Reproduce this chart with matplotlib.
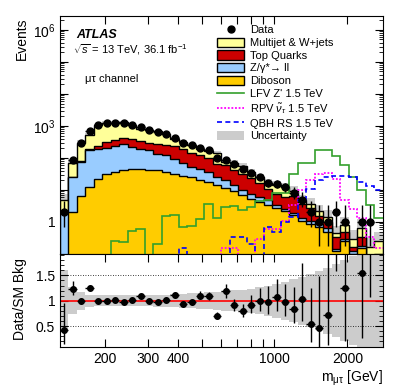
import numpy as np
import matplotlib
matplotlib.use("Agg")
import matplotlib.pyplot as plt
from matplotlib.patches import Patch
from matplotlib.lines import Line2D
from matplotlib.ticker import FixedLocator, FixedFormatter, MultipleLocator, NullLocator

plt.rcParams['font.family'] = ['Liberation Sans', 'DejaVu Sans']
plt.rcParams['mathtext.fontset'] = 'custom'
plt.rcParams['mathtext.rm'] = 'Liberation Sans'
plt.rcParams['mathtext.it'] = 'Liberation Sans:italic'
plt.rcParams['mathtext.bf'] = 'Liberation Sans:bold'

# 38 log-spaced bins in m_mu-tau [GeV]
edges = np.geomspace(130, 2807, 39)

data_obs = [2, 88, 301, 677, 1047, 1240, 1260, 1240, 1100, 903, 766, 648, 562, 430,
            300, 250, 205, 177, 102, 89, 64, 46, 34, 25, 16, 15, 12, 8, 5, 2, 1, 1,
            2, 1, 0, 1, 1, 0]

diboson = [0.05, 2.05, 6.4, 12.4, 22.6, 31, 37, 41, 43.5, 46, 43, 41, 36, 32, 28, 25,
           21, 18, 14, 11.5, 9.3, 6.8, 5.3, 4.2, 3.5, 2.8, 2.2, 1.6, 1.1, 0.88, 0.7,
           0.5, 0.12, 0.25, 0.1, 0.15, 0.05, 0.08]
zll = [2.0, 23.45, 68.6, 160.6, 167.4, 174, 203, 229, 176.5, 149, 132, 96, 84, 58, 42,
       27, 25, 18, 11.5, 8.5, 4.7, 2.9, 2.4, 1.8, 1.2, 0.5, 0.4, 0.35, 0.25, 0.2, 0.15,
       0.15, 0.02, 0.05, 0.02, 0.03, 0.01, 0.01]
top_quarks = [0.05, 0.5, 3, 22, 50, 111, 115, 150, 160, 145, 125, 133, 130, 140, 125,
              91, 74, 66, 40.5, 39, 29, 21.3, 16.3, 10.5, 6.3, 4.4, 3.4, 4.5, 2.3, 1.6,
              0.7, 0.35, 0.2, 0.2, 0.05, 0.17, 0.02, 0.01]
multijet = [2.7, 45, 223, 342, 817, 924, 892, 858, 698, 488, 466, 398, 301, 157, 124,
            115, 66, 60, 78, 16, 27, 26, 13, 8.5, 5.3, 6.3, 6.4, 3.0, 1.15, 1.0, 0.65,
            0.4, 0.11, 0.3, 0.13, 0.3, 0.08, 0.15]

lfv_zprime = [0, 0, 0, 0, 0, 0, 0.25, 0.24, 0.52, 0.59, 0, 0.21, 1.5, 1.7, 0.7, 0.75,
              1.2, 3.7, 1.3, 3.0, 3.1, 2.4, 3.0, 4.5, 5.0, 8, 8, 32, 70, 70, 180, 180,
              115, 58, 25, 10, 3.3, 1.3]
rpv_snu = [0] * 19 + [0.15, 0.15, 0, 0, 0.3, 0.6, 0.6, 1.1, 3.3, 9.7, 20, 32, 34, 22,
                      5, 2.6, 1.3, 0.35, 0.15]
qbh_rs = [0] * 14 + [0.15, 0, 0, 0, 0, 0, 0.35, 0.35, 0.2, 0, 0.7, 0.5, 1.0, 1.4, 5,
                     11, 20, 26, 28, 28, 25, 18, 13, 10]

unc_rel = [0.6, 0.27, 0.18, 0.12, 0.11, 0.11, 0.11, 0.11, 0.11, 0.11, 0.11, 0.12, 0.12,
           0.13, 0.14, 0.15, 0.16, 0.17, 0.18, 0.2, 0.21, 0.22, 0.24, 0.27, 0.3, 0.33,
           0.37, 0.42, 0.47, 0.52, 0.58, 0.65, 0.72, 0.8, 0.88, 0.95, 1.0, 1.0]

c_mj = '#ffff99'
c_top = '#cc0000'
c_zll = '#99ccff'
c_dib = '#ffcc00'
c_lfv = '#33a02c'
c_rpv = '#ff00ff'
c_qbh = '#0000ff'
c_unc = '#cccccc'

floor = 1e-3
n = np.array(data_obs, dtype=float)
dib = np.array(diboson)
cum2 = dib + np.array(zll)
cum3 = cum2 + np.array(top_quarks)
total = cum3 + np.array(multijet)
unc = np.array(unc_rel)
centers = np.sqrt(edges[:-1] * edges[1:])
xerr = [centers - edges[:-1], edges[1:] - centers]

# approximate Poisson (Garwood) intervals
with np.errstate(divide='ignore', invalid='ignore'):
    err_lo = n - n * (1 - 1 / (9 * n) - 1 / (3 * np.sqrt(n))) ** 3
    err_hi = (n + 1) * (1 - 1 / (9 * (n + 1)) + 1 / (3 * np.sqrt(n + 1))) ** 3 - n
has = n > 0

fig = plt.figure(figsize=(4.07, 3.91), dpi=100)
ax = fig.add_axes([0.1474, 0.3504, 0.7936, 0.6087])
rax = fig.add_axes([0.1474, 0.1125, 0.7936, 0.2379], sharex=ax)

# uncertainty band behind the stack
ax.stairs(total * (1 + unc), edges, baseline=np.maximum(total * (1 - unc), floor),
          fill=True, color=c_unc, lw=0, zorder=1)

for vals, col in [(total, c_mj), (cum3, c_top), (cum2, c_zll), (dib, c_dib)]:
    ax.stairs(vals, edges, baseline=floor, fill=True, color=col, lw=0, zorder=2)
    ax.stairs(vals, edges, baseline=floor, color='black', lw=1.0, zorder=2)

ax.stairs(np.maximum(lfv_zprime, floor), edges, baseline=None, color=c_lfv, lw=1.2, zorder=3)
ax.stairs(np.maximum(rpv_snu, floor), edges, baseline=None, color=c_rpv, lw=1.3,
          linestyle=(0, (1, 1)), zorder=3)
ax.stairs(np.maximum(qbh_rs, floor), edges, baseline=None, color=c_qbh, lw=1.2,
          linestyle=(0, (3, 2)), zorder=3)

ax.errorbar(centers[has], n[has], yerr=[err_lo[has], err_hi[has]],
            xerr=[xerr[0][has], xerr[1][has]], fmt='o', color='black', ms=5,
            elinewidth=1, capsize=0, zorder=5)

ax.set_xscale('log')
ax.set_yscale('log')
ax.set_xlim(edges[0], edges[-1])
ax.set_ylim(0.1, 2.7e6)

xt = [200, 300, 400, 500, 600, 700, 800, 900, 1000, 2000]
xl = ['200', '300', '400', '', '', '', '', '', '1000', '2000']
for a in (ax, rax):
    a.xaxis.set_major_locator(FixedLocator(xt))
    a.xaxis.set_major_formatter(FixedFormatter(xl))
    a.xaxis.set_minor_locator(NullLocator())
    a.tick_params(which='both', direction='in', top=True, right=True, labelsize=10)
    a.tick_params(which='major', length=6)
    a.tick_params(which='minor', length=3)
ax.tick_params(labelbottom=False)

yt = [0.1, 1, 10, 100, 1e3, 1e4, 1e5, 1e6]
ax.yaxis.set_major_locator(FixedLocator(yt))
ax.yaxis.set_major_formatter(FixedFormatter(['', '1', '', '', '$10^3$', '', '', '$10^6$']))
ax.yaxis.set_minor_locator(matplotlib.ticker.LogLocator(base=10, subs=np.arange(2, 10), numticks=20))
ax.yaxis.set_minor_formatter(matplotlib.ticker.NullFormatter())

# ratio panel
ratio = np.where(has, n / total, np.nan)
rax.stairs(1 + unc, edges, baseline=1 - unc, fill=True, color=c_unc, lw=0, zorder=1)
rax.axhline(1, color='red', lw=1.2, zorder=2)
for yv in (0.5, 1.5):
    rax.axhline(yv, color='black', lw=0.6, linestyle=(0, (1, 2)), zorder=2)
rax.errorbar(centers[has], ratio[has], yerr=[err_lo[has] / total[has], err_hi[has] / total[has]],
             xerr=[xerr[0][has], xerr[1][has]], fmt='o', color='black', ms=4,
             elinewidth=1, capsize=0, zorder=5)
rax.set_ylim(0.09, 1.92)
rax.yaxis.set_major_locator(FixedLocator([0.5, 1, 1.5]))
rax.yaxis.set_major_formatter(FixedFormatter(['0.5', '1', '1.5']))
rax.yaxis.set_minor_locator(MultipleLocator(0.1))

fig.text(22 / 407, 1 - 17 / 391, 'Events', rotation=90, ha='center', va='top', fontsize=10)
fig.text(20.5 / 407, 1 - 299 / 391, 'Data/SM Bkg', rotation=90, ha='center', va='center', fontsize=10)
fig.text(383 / 407, 1 - 378 / 391, 'm$_{\\mathrm{μτ}}$ [GeV]', ha='right', va='center', fontsize=10)

fig.text(76 / 407, 1 - 35 / 391, 'ATLAS', fontsize=9, fontweight='bold', fontstyle='italic', va='center')
fig.text(73 / 407, 1 - 50 / 391, r'$\sqrt{s}$ = 13 TeV, 36.1 fb$^{-1}$', fontsize=8, va='center')
fig.text(85 / 407, 1 - 79 / 391, 'μτ channel', fontsize=8, va='center')

handles = [
    Line2D([], [], marker='o', color='black', linestyle='none', ms=5),
    Patch(facecolor=c_mj, edgecolor='black', lw=1),
    Patch(facecolor=c_top, edgecolor='black', lw=1),
    Patch(facecolor=c_zll, edgecolor='black', lw=1),
    Patch(facecolor=c_dib, edgecolor='black', lw=1),
    Line2D([], [], color=c_lfv, lw=1.2),
    Line2D([], [], color=c_rpv, lw=1.3, linestyle=(0, (1, 1))),
    Line2D([], [], color=c_qbh, lw=1.2, linestyle=(0, (3, 2))),
    Patch(facecolor=c_unc, edgecolor='none'),
]
labels = ['Data', 'Multijet & W+jets', 'Top Quarks', 'Z/γ*→ ll', 'Diboson',
          "LFV Z' 1.5 TeV", r'RPV $\tilde{\nu}_{\tau}$ 1.5 TeV', 'QBH RS 1.5 TeV', 'Uncertainty']
fig.legend(handles, labels, loc='upper left', bbox_to_anchor=(216.7 / 407, 1 - 25 / 391),
           frameon=False, fontsize=8, handlelength=2.5, handleheight=0.9,
           handletextpad=0.5, labelspacing=0.2, borderpad=0, borderaxespad=0)

fig.savefig('out.png', dpi=100)
